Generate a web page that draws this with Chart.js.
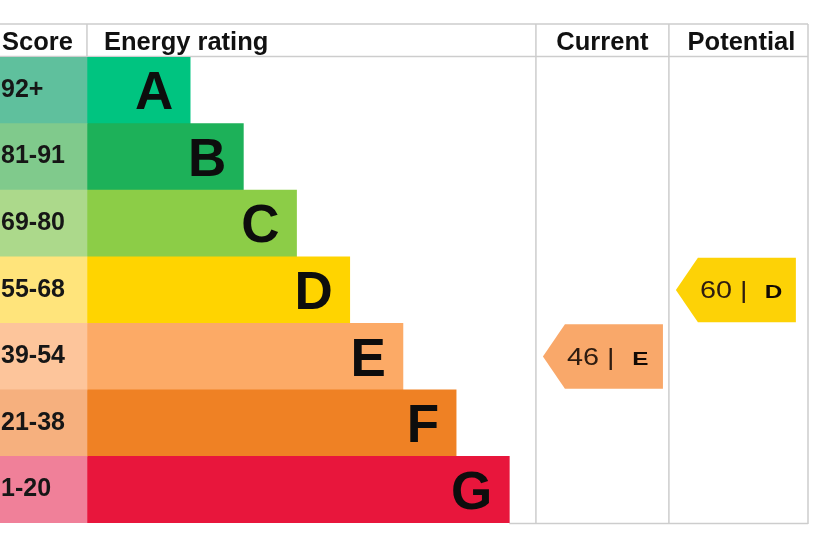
<!DOCTYPE html>
<html><head><meta charset="utf-8">
<script src="https://cdn.jsdelivr.net/npm/chart.js@4.4.1/dist/chart.umd.min.js"></script>
<style>html,body{margin:0;padding:0;background:#fff}#wrap{width:814px;height:542px;position:relative}</style>
</head><body><div id="wrap"><canvas id="c"></canvas></div>
<script>
// ---- data ----
const bands = ['A','B','C','D','E','F','G'];
const scoreRanges = ['92+','81-91','69-80','55-68','39-54','21-38','1-20'];
const scoreBand = [1.635,1.635,1.635,1.635,1.635,1.635,1.635];
const barLengths = [1.94,2.94,3.94,4.94,5.94,6.94,7.94];
const bandColors = ['#00c480','#1db159','#8ccd47','#ffd400','#fcaa66','#ef8124','#e8163c'];
const scoreColors = ['#5fc09d','#80ca8c','#acd98b','#ffe47b','#fdc59b','#f6b07e','#f08099'];
const headers = ['Score','Energy rating','Current','Potential'];
const ratingScores = [46, 60];
const ratingBands = ['E','D'];
const arrowColors = ['#f9a86a','#fdd206'];
const columnEdges = [10.075, 12.575, 15.19];
const xMax = 15.19;

const FONT = '"Liberation Sans", Arial, sans-serif';
const HEADER_H = 33;

const epcPlugin = {
  id: 'epc',
  beforeDatasetsDraw(chart) {
    const {ctx, chartArea: a, scales: {x}} = chart;
    const top = a.top - HEADER_H;
    const right = x.getPixelForValue(columnEdges[2]);
    const scoreEdge = x.getPixelForValue(scoreBand[0]);
    const gEnd = x.getPixelForValue(scoreBand[6] + barLengths[6]);
    ctx.save();
    ctx.strokeStyle = '#cdcdcd';
    ctx.lineWidth = 1.5;
    ctx.beginPath();
    ctx.moveTo(a.left, top); ctx.lineTo(right, top);
    ctx.moveTo(a.left, a.top - 0.5); ctx.lineTo(right, a.top - 0.5);
    ctx.moveTo(gEnd, a.bottom + 0.5); ctx.lineTo(right, a.bottom + 0.5);
    ctx.moveTo(scoreEdge, top); ctx.lineTo(scoreEdge, a.top);
    columnEdges.forEach(v => {
      const px = x.getPixelForValue(v);
      ctx.moveTo(px, top); ctx.lineTo(px, a.bottom + 1);
    });
    ctx.stroke();
    // header text
    ctx.fillStyle = '#111';
    ctx.font = 'bold 25.5px ' + FONT;
    ctx.textBaseline = 'alphabetic';
    const base = top + 26;
    ctx.textAlign = 'left';
    ctx.fillText(headers[0], a.left + 2, base);
    ctx.fillText(headers[1], scoreEdge + 17, base);
    ctx.textAlign = 'center';
    ctx.fillText(headers[2], (x.getPixelForValue(columnEdges[0]) + x.getPixelForValue(columnEdges[1])) / 2, base);
    ctx.fillText(headers[3], (x.getPixelForValue(columnEdges[1]) + x.getPixelForValue(columnEdges[2])) / 2 + 3, base);
    ctx.restore();
  },
  afterDatasetsDraw(chart) {
    const {ctx, scales: {x, y}} = chart;
    const rowH = Math.abs(y.getPixelForValue(1) - y.getPixelForValue(0));
    ctx.save();
    ctx.textBaseline = 'alphabetic';
    bands.forEach((b, i) => {
      const yc = y.getPixelForValue(i);
      // score range
      ctx.fillStyle = '#161616';
      ctx.font = 'bold 25px ' + FONT;
      ctx.textAlign = 'left';
      ctx.fillText(scoreRanges[i], x.getPixelForValue(0) + 1, yc + 6.5);
      // band letter
      ctx.font = 'bold 53px ' + FONT;
      ctx.textAlign = 'right';
      ctx.fillStyle = '#0d0d0d';
      ctx.fillText(b, x.getPixelForValue(scoreBand[i] + barLengths[i]) - 17, yc + 19);
    });
    // rating arrows
    ratingScores.forEach((s, k) => {
      const idx = bands.indexOf(ratingBands[k]);
      const yc = y.getPixelForValue(idx);
      const t = yc - rowH / 2 + 1, btm = yc + rowH / 2 - 1;
      const tip = x.getPixelForValue(columnEdges[k]) + 7;
      const sh = tip + 22, rt = tip + 120;
      ctx.fillStyle = arrowColors[k];
      ctx.beginPath();
      ctx.moveTo(tip, yc); ctx.lineTo(sh, t); ctx.lineTo(rt, t);
      ctx.lineTo(rt, btm); ctx.lineTo(sh, btm); ctx.closePath();
      ctx.fill();
      // score and separator
      ctx.save();
      ctx.translate(tip + 24, yc + 8.3);
      ctx.scale(1.2, 1);
      ctx.fillStyle = '#2e1c10';
      ctx.font = '24px ' + FONT;
      ctx.textAlign = 'left';
      ctx.fillText(s + ' |', 0, 0);
      ctx.restore();
      // band letter
      ctx.save();
      ctx.translate(rt - 22.5, yc + 8.3);
      ctx.scale(1.35, 1);
      ctx.fillStyle = '#120a04';
      ctx.font = '900 18px ' + FONT;
      ctx.textAlign = 'center';
      ctx.fillText(ratingBands[k], 0, 0);
      ctx.restore();
    });
    ctx.restore();
  }
};

new Chart(document.getElementById('c'), {
  type: 'bar',
  data: {
    labels: bands,
    datasets: [
      { label: 'Score', data: scoreBand, backgroundColor: scoreColors, borderWidth: 0,
        categoryPercentage: 1, barPercentage: 1 },
      { label: 'Energy rating', data: barLengths, backgroundColor: bandColors, borderWidth: 0,
        categoryPercentage: 1, barPercentage: 1 }
    ]
  },
  options: {
    indexAxis: 'y',
    responsive: true,
    maintainAspectRatio: false,
    devicePixelRatio: 1,
    animation: false,
    layout: { padding: { top: 57, bottom: 19, left: 0, right: 6 } },
    plugins: { legend: { display: false }, tooltip: { enabled: false }, title: { display: false } },
    scales: {
      x: { type: 'linear', stacked: true, min: 0, max: xMax, display: false },
      y: { type: 'category', stacked: true, display: false }
    }
  },
  plugins: [epcPlugin]
});
</script>
</body></html>
